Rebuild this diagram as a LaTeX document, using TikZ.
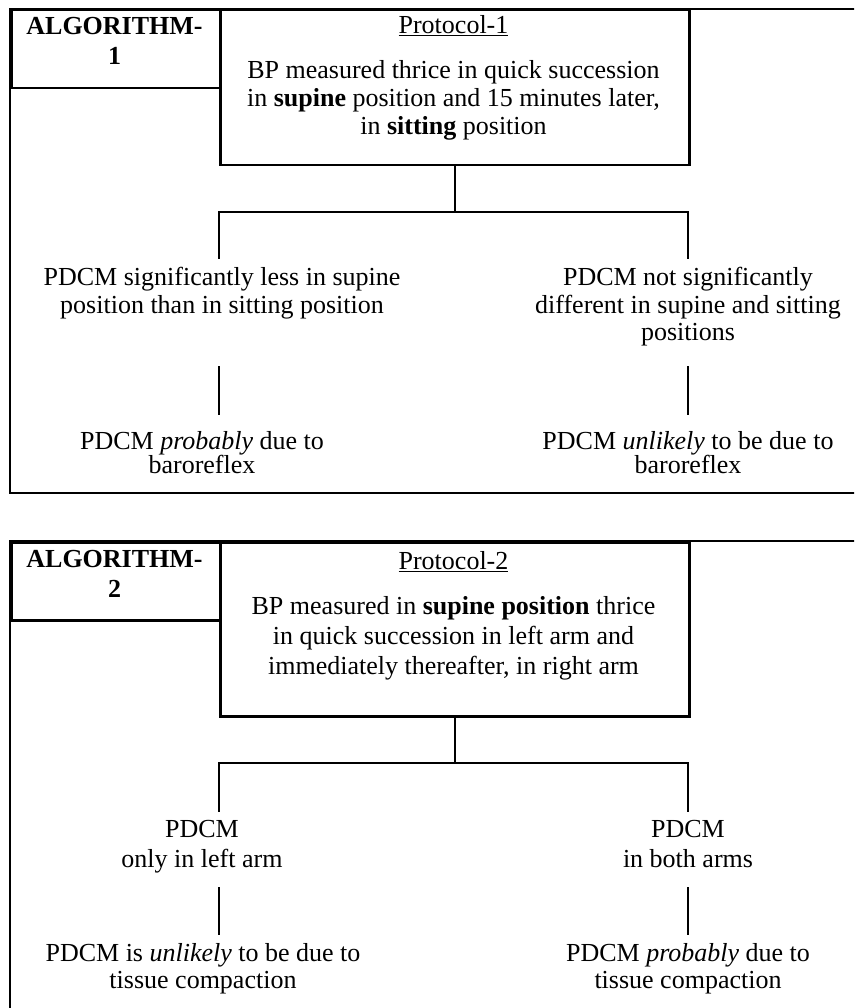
\documentclass[tikz,border=0pt]{standalone}
\usepackage{fontspec}
\setmainfont{Liberation Serif}
\usetikzlibrary{positioning}

\tikzset{
  rule/.style={line width=2.5pt},
  cell/.style={draw, rule, anchor=north west, inner sep=0pt},
  txt/.style={align=center, inner xsep=0pt, inner ysep=9pt, anchor=north},
  head/.style={align=center, inner sep=0pt, anchor=north, font=\bfseries\fontsize{26}{30}\selectfont},
}

\begin{document}
\begin{tikzpicture}[x=1pt, y=-1pt, font=\fontsize{26}{27.7}\selectfont, line join=miter, line cap=rect]
\useasboundingbox (0,0) rectangle (854,1008);
\clip (0,0) rectangle (854,1008);

% algorithm 1
\draw[rule] (10,9) rectangle (900,493);
\node[cell, minimum width=209pt, minimum height=78pt] (a1) at (10,9) {};
\node[cell, minimum width=469pt, minimum height=155pt] (p1) at (219,9) {};
\node[head] (a1t) at (114.5,17) {ALGORITHM-\\1};
\node[align=center, inner sep=0pt, anchor=north] (p1t) at (453.5,15)
  {\underline{Protocol-1}\\[18pt]BP measured thrice in quick succession\\
   in \textbf{supine} position and 15 minutes later,\\ in \textbf{sitting} position};

\coordinate (bl1) at (219,212);
\coordinate (br1) at (688,212);
\draw[rule] (p1.south) -- (p1.south |- bl1);
\draw[rule] (bl1) -- (br1);

\node[txt] (l1) at (222,258) {PDCM significantly less in supine\\position than in sitting position};
\node[txt] (r1) at (688,258) {PDCM not significantly\\different in supine and sitting\\positions};
\draw[rule] (bl1) -- (bl1 |- l1.north);
\draw[rule] (br1) -- (r1.north);

\coordinate (vl1) at (219,367);
\coordinate (vr1) at (688,367);
\node[txt, inner ysep=17pt] (l1b) at (202,414) {PDCM \textit{probably} due to\\[-3pt]baroreflex};
\node[txt, inner ysep=17pt] (r1b) at (688,414) {PDCM \textit{unlikely} to be due to\\[-3pt]baroreflex};
\draw[rule] (vl1) -- (vl1 |- l1b.north);
\draw[rule] (vr1) -- (r1b.north);

% algorithm 2
\draw[rule] (10,541) rectangle (900,1100);
\node[cell, minimum width=209pt, minimum height=78pt] (a2) at (10,541) {};
\node[cell, minimum width=469pt, minimum height=174pt] (p2) at (219,541) {};
\node[head] (a2t) at (114.5,550) {ALGORITHM-\\2};
\node[align=center, inner sep=0pt, anchor=north] (p2t) at (453.5,551)
  {\underline{Protocol-2}\\[18pt]BP measured in \textbf{supine position} thrice\\[2pt]
   in quick succession in left arm and\\[2pt] immediately thereafter, in right arm};

\coordinate (bl2) at (219,763);
\coordinate (br2) at (688,763);
\draw[rule] (p2.south) -- (p2.south |- bl2);
\draw[rule] (bl2) -- (br2);

\node[txt] (l2) at (202,811) {PDCM\\[2pt]only in left arm};
\node[txt] (r2) at (688,811) {PDCM\\[2pt]in both arms};
\draw[rule] (bl2) -- (bl2 |- l2.north);
\draw[rule] (br2) -- (r2.north);

\coordinate (vl2) at (219,888);
\coordinate (vr2) at (688,888);
\node[txt, inner ysep=9pt] (l2b) at (203,934) {PDCM is \textit{unlikely} to be due to\\tissue compaction};
\node[txt, inner ysep=9pt] (r2b) at (688,934) {PDCM \textit{probably} due to\\tissue compaction};
\draw[rule] (vl2) -- (vl2 |- l2b.north);
\draw[rule] (vr2) -- (r2b.north);
\end{tikzpicture}
\end{document}
